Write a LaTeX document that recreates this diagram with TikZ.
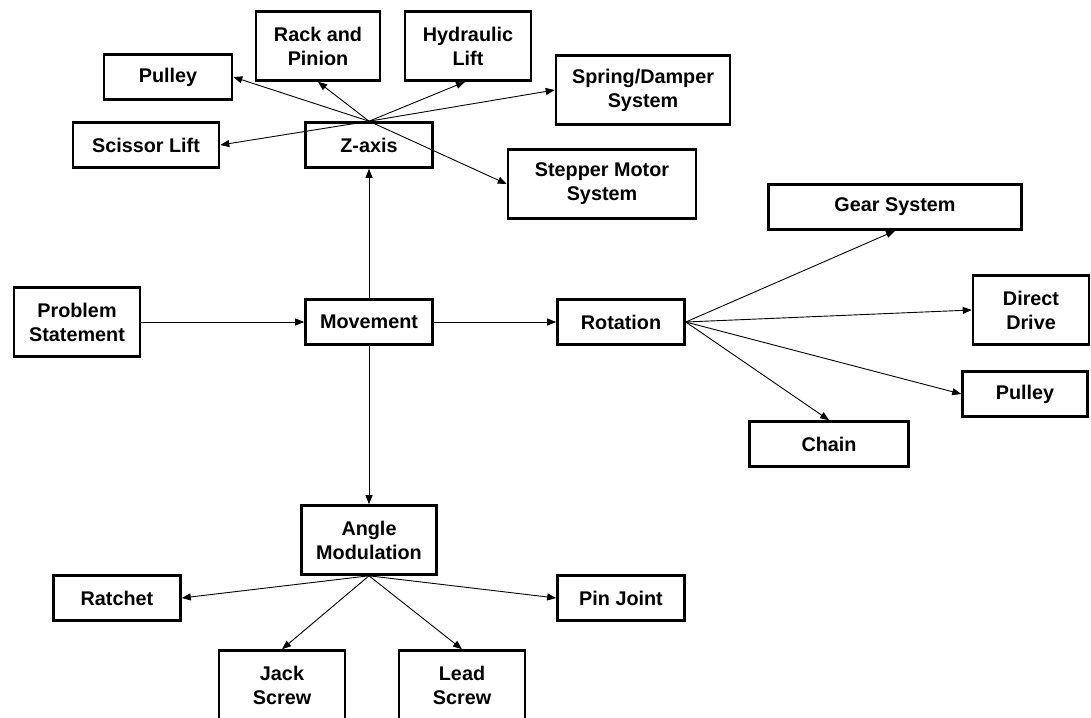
\documentclass[tikz,border=0pt]{standalone}
\usepackage{fontspec}
\setmainfont{Liberation Sans}
\usetikzlibrary{arrows.meta}
\begin{document}
\begin{tikzpicture}[x=1pt,y=-1pt,
  box/.style={draw, line width=2.6pt, align=center, inner sep=0pt,
    font=\fontsize{19.8}{24}\selectfont\bfseries},
  one/.style={box, minimum height=45pt},
  two/.style={box, minimum height=69pt},
  arr/.style={line width=0.9pt, -{Triangle[length=9pt,width=7pt]}}]
\useasboundingbox (0,0) rectangle (1091,717);
\clip (0,0) rectangle (1091,717);
\fill[white] (0,0) rectangle (1091,717);
% top cluster
\node[one, minimum width=128pt] (pulz) at (168,77) {Pulley};
\node[two, minimum width=124pt] (rack) at (318,46) {Rack and\\Pinion};
\node[two, minimum width=126pt] (hyd) at (468,46) {Hydraulic\\Lift};
\node[two, minimum width=174pt] (spring) at (643,90) {Spring/Damper\\System};
\node[one, minimum width=146pt] (sciss) at (146,145) {Scissor Lift};
\node[one, minimum width=127pt] (zaxis) at (369,145) {Z-axis};
\node[two, minimum width=188pt] (step) at (602,184) {Stepper Motor\\System};
% middle row
\node[two, minimum width=126pt] (prob) at (77,322) {Problem\\Statement};
\node[one, minimum width=127pt] (move) at (369,322) {Movement};
\node[one, minimum width=127pt] (rot) at (621,322) {Rotation};
% right cluster
\node[one, minimum width=253pt] (gear) at (895,207) {Gear System};
\node[two, minimum width=116pt] (direct) at (1031,310) {Direct\\Drive};
\node[one, minimum width=125pt] (pulr) at (1025,394) {Pulley};
\node[one, minimum width=159pt] (chain) at (829,444) {Chain};
% bottom cluster
\node[two, minimum width=135pt] (angle) at (369,540) {Angle\\Modulation};
\node[one, minimum width=127pt] (ratchet) at (117,598) {Ratchet};
\node[one, minimum width=127pt] (pin) at (621,598) {Pin Joint};
\node[two, minimum width=126pt] (jack) at (282,685) {Jack\\Screw};
\node[two, minimum width=126pt] (lead) at (462,685) {Lead\\Screw};
% connectors
\draw[arr] (prob.east) -- (move.west);
\draw[arr] (move.east) -- (rot.west);
\draw[arr] (move.north) -- (zaxis.south);
\draw[arr] (move.south) -- (angle.north);
\draw[arr] (zaxis.north) -- (pulz.east);
\draw[arr] (zaxis.north) -- (rack.south);
\draw[arr] (zaxis.north) -- ([xshift=-3pt]hyd.south);
\draw[arr] (zaxis.north) -- (spring.west);
\draw[arr] (zaxis.north) -- (sciss.east);
\draw[arr] (zaxis.north) -- (step.west);
\draw[arr] (rot.east) -- (gear.south);
\draw[arr] (rot.east) -- (direct.west);
\draw[arr] (rot.east) -- (pulr.west);
\draw[arr] (rot.east) -- (chain.north);
\draw[arr] (angle.south) -- (ratchet.east);
\draw[arr] (angle.south) -- (pin.west);
\draw[arr] (angle.south) -- (jack.north);
\draw[arr] (angle.south) -- (lead.north);
\end{tikzpicture}
\end{document}
